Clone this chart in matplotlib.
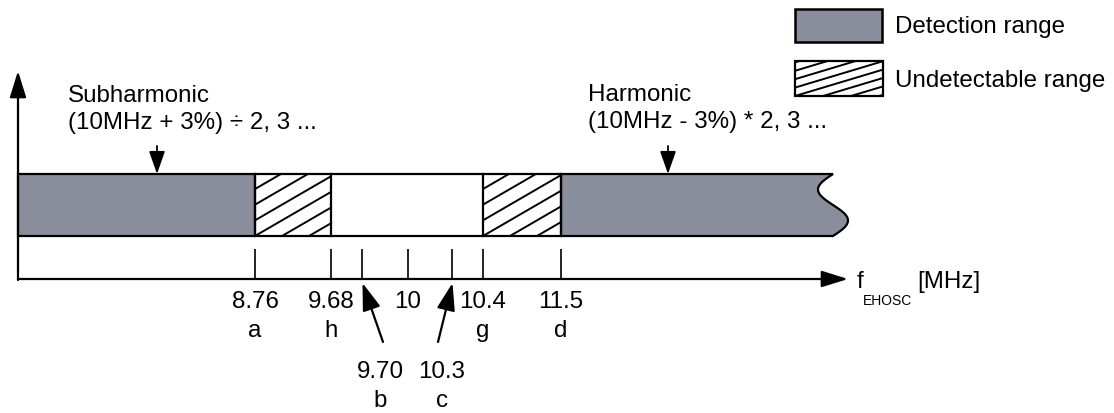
import numpy as np
import matplotlib.pyplot as plt
from matplotlib.patches import Rectangle, Polygon

plt.rcParams['font.family'] = ['Liberation Sans', 'DejaVu Sans']

# frequencies (MHz) marked on the axis, with their labels
freqs = [8.76, 9.68, 9.70, 10, 10.3, 10.4, 11.5]
freq_labels = ['8.76', '9.68', '9.70', '10', '10.3', '10.4', '11.5']
letters = ['a', 'h', 'b', '', 'c', 'g', 'd']
callout = [False, False, True, False, True, False, False]  # labels hung below with an arrow

# ranges along the band
detect_lo = 8.76     # detection range below this (subharmonic side)
detect_hi = 11.5     # detection range above this (harmonic side)
undetect = [(8.76, 9.68), (10.4, 11.5)]

legend_labels = ['Detection range', 'Undetectable range']
sub_text = ['Subharmonic', '(10MHz + 3%) \u00f7 2, 3 ...']
harm_text = ['Harmonic', '(10MHz - 3%) * 2, 3 ...']

# layout (pixels) - diagram is not to scale
tick_x = [255, 331, 362, 408, 452, 483, 561]
x0, x_end, x_arrow = 18, 833, 848
y_top, y_bot, y_axis = 175, 237, 280
gray = '#8a8e9c'
FS = 17.4

fx = lambda f: np.interp(f, freqs, tick_x)

fig = plt.figure(figsize=(11.14, 4.14), dpi=100)
ax = fig.add_axes([0, 0, 1, 1])
ax.set_xlim(0, 1114)
ax.set_ylim(414, 0)
ax.axis('off')


def hatch(xa, xb, ya, yb, slope, sp):
    clip = Rectangle((xa, ya), xb - xa, yb - ya, transform=ax.transData)
    n = int((xb - xa) / sp + (yb - ya) / slope / sp) + 2
    for k in range(-n, n):
        xs = xa + k * sp
        xx = np.array([xs - 200, xs + 200])
        yy = yb - slope * (xx - xs)
        ln, = ax.plot(xx, yy, color='black', lw=1.4, solid_capstyle='butt')
        ln.set_clip_path(clip)
    ax.add_patch(Rectangle((xa, ya), xb - xa, yb - ya, fill=False,
                           edgecolor='black', lw=1.6))


# band: left detection block
ax.add_patch(Rectangle((x0, y_top), fx(detect_lo) - x0, y_bot - y_top,
                       facecolor=gray, edgecolor='black', lw=1.6))
# right detection block with wavy broken end
t = np.linspace(0, 1, 60)
wave = np.column_stack([x_end - 15 * np.sin(2 * np.pi * t), y_top + (y_bot - y_top) * t])
pts = np.vstack([[fx(detect_hi), y_top], wave, [fx(detect_hi), y_bot]])
ax.add_patch(Polygon(pts, closed=True, facecolor=gray, edgecolor='black', lw=1.6))
# middle white region outline
ax.plot([fx(9.68), fx(10.4)], [y_top, y_top], color='black', lw=1.6)
ax.plot([fx(9.68), fx(10.4)], [y_bot, y_bot], color='black', lw=1.6)
for a, b in undetect:
    hatch(fx(a), fx(b), y_top, y_bot, 0.58, 27)

# axes arrows
head = '-|>,head_length=0.9,head_width=0.28'
ax.annotate('', xy=(x0, 72), xytext=(x0, y_axis + 1),
            arrowprops=dict(arrowstyle=head, color='black', lw=1.6,
                            mutation_scale=18, shrinkA=0, shrinkB=0))
ax.annotate('', xy=(x_arrow, y_axis), xytext=(x0, y_axis),
            arrowprops=dict(arrowstyle=head, color='black', lw=1.6,
                            mutation_scale=18, shrinkA=0, shrinkB=0))

# ticks and labels
ax.vlines(tick_x, 250, y_axis, color='black', lw=1.2)
for x, lab, let, c in zip(tick_x, freq_labels, letters, callout):
    if c:
        lx = x + 18 if x < 400 else x - 10
        ax.annotate('', xy=(x + 0.5, y_axis + 4), xytext=(x + 21 if x < 400 else x - 14, 343),
                    arrowprops=dict(arrowstyle='-|>,head_length=1.2,head_width=0.4',
                                    color='black', lw=1.6, mutation_scale=14,
                                    shrinkA=0, shrinkB=0))
        ax.text(lx, 378, lab, fontsize=FS, ha='center', va='baseline')
        ax.text(lx, 407, let, fontsize=FS, ha='center', va='baseline')
    else:
        ax.text(x, 308, lab, fontsize=FS, ha='center', va='baseline')
        ax.text(x, 337, let, fontsize=FS, ha='center', va='baseline')

# axis title f_EHOSC [MHz]
ax.text(857, 288, 'f', fontsize=FS, ha='left', va='baseline')
ax.text(863, 305, 'EHOSC', fontsize=10, ha='left', va='baseline')
ax.text(917, 288, '[MHz]', fontsize=FS, ha='left', va='baseline')

# annotations above the band
ax.text(68, 102, sub_text[0], fontsize=FS, ha='left', va='baseline')
ax.text(68, 129, sub_text[1], fontsize=FS, ha='left', va='baseline')
ax.text(588, 101, harm_text[0], fontsize=FS, ha='left', va='baseline')
ax.text(588, 128, harm_text[1], fontsize=FS, ha='left', va='baseline')
for x in (157, 668):
    ax.annotate('', xy=(x, y_top), xytext=(x, 147),
                arrowprops=dict(arrowstyle='-|>,head_length=1.0,head_width=0.35',
                                color='black', lw=1.3, mutation_scale=14,
                                shrinkA=0, shrinkB=0))

# legend
ax.add_patch(Rectangle((795, 10), 87, 33, facecolor=gray, edgecolor='black', lw=1.8))
hatch(795, 883, 62, 97, 0.3, 28)
ax.text(895, 33, legend_labels[0], fontsize=FS, ha='left', va='baseline')
ax.text(895, 87, legend_labels[1], fontsize=FS, ha='left', va='baseline')

fig.savefig('out.png', dpi=100)
